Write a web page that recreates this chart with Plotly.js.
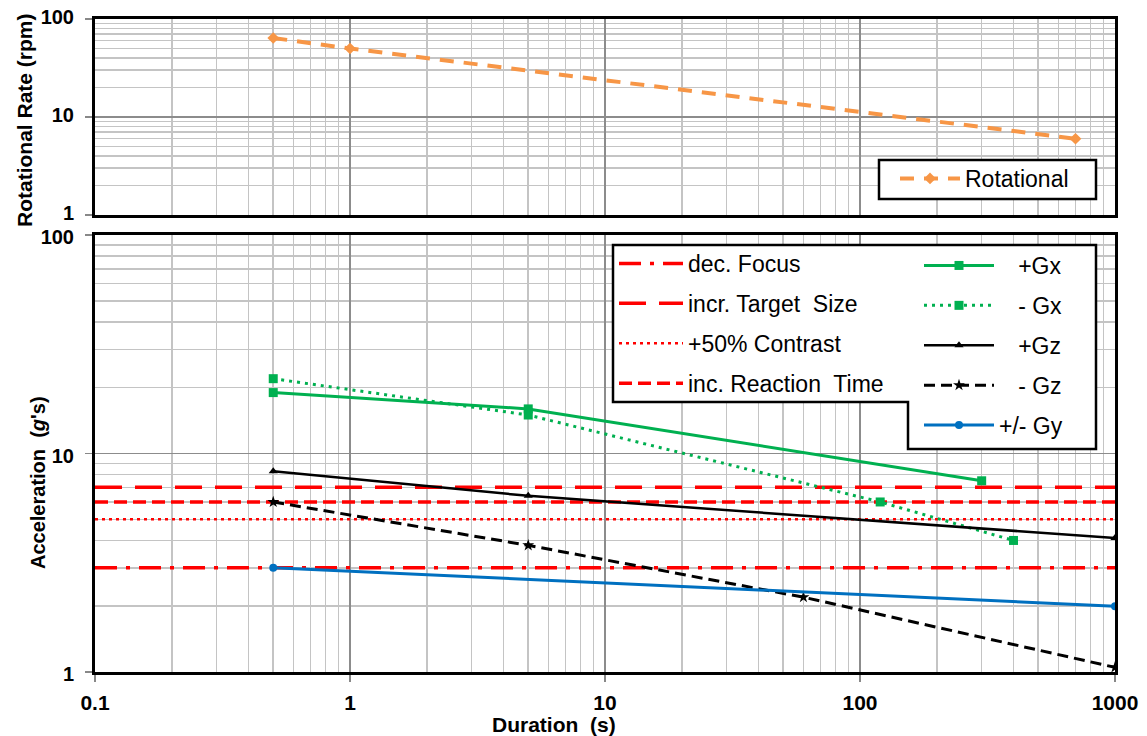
<!DOCTYPE html>
<html>
<head>
<meta charset="utf-8">
<script src="https://cdn.plot.ly/plotly-3.0.1.min.js"></script>
<style>html,body{margin:0;padding:0;background:#fff;}#chart{width:1147px;height:736px;}</style>
</head>
<body>
<div id="chart"></div>
<script>
// ---- data ----
const rotX = [0.5, 1, 700];
const rotY = [64, 50, 6];

const gxPosX = [0.5, 5, 300];
const gxPosY = [19, 16, 7.5];
const gxNegX = [0.5, 5, 120, 400];
const gxNegY = [22, 15, 6, 4];
const gzPosX = [0.5, 5, 1000];
const gzPosY = [8.3, 6.4, 4.1];
const gzNegX = [0.5, 5, 60, 1000];
const gzNegY = [6, 3.8, 2.2, 1.05];
const gyX = [0.5, 1000];
const gyY = [3, 2];

const limitNames = ['dec. Focus', 'incr. Target\u00a0 Size', '+50% Contrast', 'inc. Reaction\u00a0 Time'];
const limitValues = [3, 7, 5, 6];
const limitSpan = [0.1, 1000];

const seriesNames = ['+Gx', '- Gx', '+Gz', '- Gz', '+/- Gy'];

const xTickVals = [0.1, 1, 10, 100, 1000];
const xTickText = ['0.1', '1', '10', '100', '1000'];
const yTickVals = [1, 10, 100];
const yTickText = ['1', '10', '100'];

// ---- styling ----
const FONT = 'Liberation Sans, Arial, sans-serif';
const RED = '#ff0000';
const limitDash = ['22px,9px,4px,9px', '27px,13px', '3px,4px', '13px,6px'];
const limitWidth = [3.5, 3.5, 2.5, 3.5];

const traces = [];

traces.push({
  x: rotX, y: rotY, xaxis: 'x2', yaxis: 'y2', mode: 'lines+markers', name: 'Rotational',
  line: {color: '#f79646', width: 4, dash: '14px,10px'},
  marker: {symbol: 'diamond', size: 9, color: '#f79646'},
  legend: 'legend', legendgroup: 'r'
});

limitNames.forEach((n, i) => {
  traces.push({
    x: limitSpan, y: [limitValues[i], limitValues[i]], xaxis: 'x', yaxis: 'y',
    mode: 'lines', name: n, legend: 'legend2', legendgroup: 'l' + i,
    line: {color: RED, width: limitWidth[i], dash: limitDash[i]}
  });
});

const NB = '\u00a0\u00a0\u00a0';
const seriesData = [[gxPosX, gxPosY], [gxNegX, gxNegY], [gzPosX, gzPosY], [gzNegX, gzNegY], [gyX, gyY]];
const seriesStyle = [
  {color: '#00b050', dash: 'solid', width: 3, sym: 'square', size: 9, pad: NB},
  {color: '#00b050', dash: '3px,5px', width: 3, sym: 'square', size: 9, pad: NB},
  {color: '#000000', dash: 'solid', width: 2.5, sym: 'triangle-up', size: 8, pad: NB},
  {color: '#000000', dash: '11px,6px', width: 3, sym: 'star', size: 9, pad: NB},
  {color: '#0070c0', dash: 'solid', width: 3, sym: 'circle', size: 8, pad: ''}
];
seriesData.forEach((d, i) => {
  const s = seriesStyle[i];
  traces.push({
    x: d[0], y: d[1], xaxis: 'x', yaxis: 'y', mode: 'lines+markers', name: s.pad + seriesNames[i],
    legend: 'legend3', legendgroup: 's' + i,
    line: {color: s.color, width: s.width, dash: s.dash},
    marker: {symbol: s.sym, size: s.size, color: s.color}
  });
});

// pixel helpers for paper coords (plot area 95..1115 x 19..672)
const L = 95, R = 32, T = 19, B = 64, W = 1147 - L - R, H = 736 - T - B;
const px = v => (v - L) / W;
const py = v => (736 - B - v) / H;

const gridMajor = '#8c8c8c', gridMinor = '#c4c4c4';
function axisBase(extra) {
  return Object.assign({
    type: 'log', showgrid: true, gridcolor: gridMajor, gridwidth: 1.5,
    minor: {showgrid: true, gridcolor: gridMinor, gridwidth: 1.5, dtick: 'D1', ticks: ''},
    showline: true, linecolor: '#000', linewidth: 3, mirror: true,
    ticks: 'outside', ticklen: 7, tickcolor: '#888', tickwidth: 1.5,
    tickfont: {family: FONT, size: 21, color: '#000', weight: 'bold'},
    zeroline: false, tickmode: 'array'
  }, extra);
}
const xAxis = extra => axisBase(Object.assign({range: [-1, 3], tickvals: xTickVals, ticktext: xTickText}, extra));
const yAxis = extra => axisBase(Object.assign({
  range: [0, 2], tickvals: yTickVals, ticktext: yTickText, ticklabelstandoff: 7,
  tickfont: {family: FONT, size: 20, color: '#000', weight: 'bold'}
}, extra));

const legendFont = {family: FONT, size: 23, color: '#000'};
const legendBase = {bgcolor: 'rgba(0,0,0,0)', borderwidth: 0, font: legendFont, tracegroupgap: 7, traceorder: 'grouped', yanchor: 'top', xanchor: 'left'};

const layout = {
  width: 1147, height: 736,
  margin: {l: L, r: R, t: T, b: B},
  paper_bgcolor: '#fff', plot_bgcolor: '#fff',
  font: {family: FONT, color: '#000'},
  xaxis: xAxis({anchor: 'y', domain: [0, 1], ticklabelstandoff: 3}),
  xaxis2: xAxis({anchor: 'y2', domain: [0, 1], matches: 'x', showticklabels: false, ticks: ''}),
  yaxis: yAxis({anchor: 'x', domain: [0, py(235)], ticklabelshift: 2}),
  yaxis2: yAxis({anchor: 'x2', domain: [py(215), 1], ticklabelshift: -2}),
  legend: Object.assign({}, legendBase, {x: px(895), y: py(157), itemwidth: 60}),
  legend2: Object.assign({}, legendBase, {x: px(614), y: py(242), itemwidth: 64}),
  legend3: Object.assign({}, legendBase, {x: px(919), y: py(244), itemwidth: 70}),
  shapes: [
    {
      type: 'rect', xref: 'paper', yref: 'paper', layer: 'above',
      x0: px(879), x1: px(1096), y0: py(199), y1: py(160),
      fillcolor: '#fff', line: {color: '#000', width: 2.5}
    },
    {
      type: 'path', xref: 'paper', yref: 'paper', layer: 'above',
      path: 'M' + px(613) + ',' + py(245) + ' L' + px(1096) + ',' + py(245) + ' L' + px(1096) + ',' + py(449) +
            ' L' + px(908) + ',' + py(449) + ' L' + px(908) + ',' + py(402) + ' L' + px(613) + ',' + py(402) + ' Z',
      fillcolor: '#fff', line: {color: '#000', width: 2.5}
    }
  ],
  annotations: [
    {text: '<b>Rotational Rate (rpm)</b>', xref: 'paper', yref: 'paper', x: px(24), y: py(120),
     xanchor: 'center', yanchor: 'middle',
     textangle: -90, showarrow: false, font: {family: FONT, size: 21, color: '#000'}},
    {text: '<b>Acceleration\u00a0 (<i>g</i>\'s)</b>', xref: 'paper', yref: 'paper', x: px(38), y: py(483),
     xanchor: 'center', yanchor: 'middle',
     textangle: -90, showarrow: false, font: {family: FONT, size: 20, color: '#000'}},
    {text: '<b>Duration\u00a0 (s)</b>', xref: 'paper', yref: 'paper', x: px(554), y: py(724),
     xanchor: 'center', yanchor: 'middle',
     showarrow: false, font: {family: FONT, size: 21, color: '#000'}}
  ],
  showlegend: true
};

Plotly.newPlot('chart', traces, layout, {displayModeBar: false, staticPlot: true});
</script>
</body>
</html>
